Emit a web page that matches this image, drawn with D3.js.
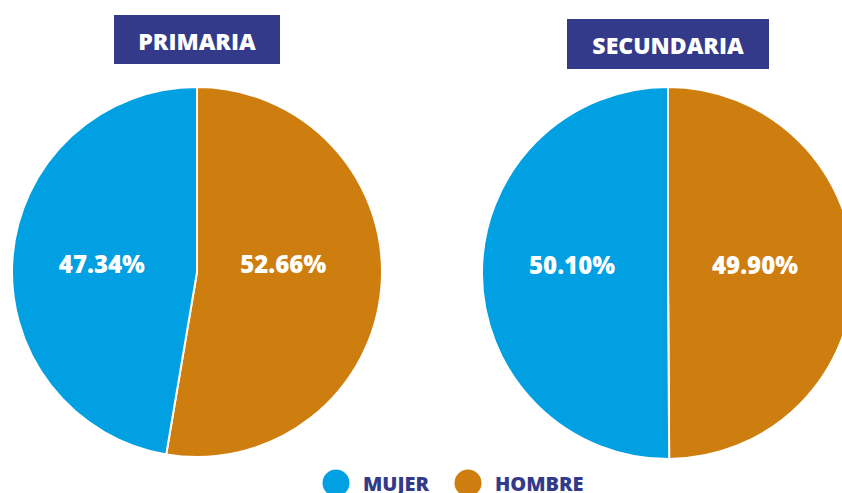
<!DOCTYPE html>
<html lang="es">
  <head>
    <meta charset="utf-8" />
    <title>Primaria y Secundaria</title>
    <script src="https://d3js.org/d3.v7.min.js"></script>
    <style>
      body {
        margin: 0;
        background: #ffffff;
      }
      text {
        font-family: "Open Sans", sans-serif;
        font-weight: 800;
      }
      .title {
        fill: #ffffff;
        font-size: 23px;
        text-anchor: middle;
        dominant-baseline: central;
      }
      .pct {
        fill: #ffffff;
        font-size: 24px;
        text-anchor: middle;
      }
      .legend {
        fill: #343a8a;
        font-size: 20px;
      }
    </style>
  </head>
  <body>
    <div id="chart"></div>
    <script>
      let width = 842;
      let height = 493;

      // Data
      let categories = ["HOMBRE", "MUJER"];
      let levels = ["PRIMARIA", "SECUNDARIA"];
      let primaria = [52.66, 47.34];
      let secundaria = [49.9, 50.1];
      let legendOrder = ["MUJER", "HOMBRE"];

      let color = d3
        .scaleOrdinal()
        .domain(categories)
        .range(["#ce7e0e", "#00a0e3"]);

      let svg = d3
        .select("#chart")
        .append("svg")
        .attr("width", width)
        .attr("height", height);

      // layout of each pie (centre, radius, title box)
      let pies = [
        { name: levels[0], values: primaria, cx: 197, cy: 272, r: 185, box: [114, 15, 166, 49] },
        { name: levels[1], values: secundaria, cx: 668, cy: 273, r: 186, box: [567, 19, 202, 50] },
      ];

      let pie = d3.pie().sort(null).value(function (d) {
        return d;
      });

      pies.forEach(function (p) {
        let g = svg.append("g").attr("transform", "translate(" + p.cx + "," + p.cy + ")");
        let arc = d3.arc().innerRadius(0).outerRadius(p.r);
        let labelArc = d3.arc().innerRadius(p.r * 0.5).outerRadius(p.r * 0.5);
        let arcs = pie(p.values);

        g.selectAll("path")
          .data(arcs)
          .enter()
          .append("path")
          .attr("d", arc)
          .attr("fill", function (d, i) {
            return color(categories[i]);
          })
          .attr("stroke", "#ffffff")
          .attr("stroke-width", 2);

        // percent labels, x from centroid, kept on one line
        g.selectAll("text.pct")
          .data(arcs)
          .enter()
          .append("text")
          .attr("class", "pct")
          .attr("x", function (d) {
            let c = labelArc.centroid(d);
            return c[0] < 0 ? c[0] - 3 : c[0] - 6;
          })
          .attr("y", 1)
          .text(function (d) {
            return d.data.toFixed(2) + "%";
          });

        // title box
        svg.append("rect")
          .attr("x", p.box[0])
          .attr("y", p.box[1])
          .attr("width", p.box[2])
          .attr("height", p.box[3])
          .attr("fill", "#343a8a");
        svg.append("text")
          .attr("class", "title")
          .attr("x", p.box[0] + p.box[2] / 2)
          .attr("y", p.box[1] + p.box[3] / 2 + 1)
          .text(p.name);
      });

      // Legend
      let legendX = d3.scalePoint().domain(legendOrder).range([336, 468]);
      let legend = svg
        .append("g")
        .selectAll("g")
        .data(legendOrder)
        .enter()
        .append("g")
        .attr("transform", function (d) {
          return "translate(" + legendX(d) + ",483)";
        });
      legend
        .append("circle")
        .attr("r", 13.5)
        .attr("fill", function (d) {
          return color(d);
        });
      legend
        .append("text")
        .attr("class", "legend")
        .attr("x", 27)
        .attr("y", 8)
        .text(function (d) {
          return d;
        });
    </script>
  </body>
</html>
